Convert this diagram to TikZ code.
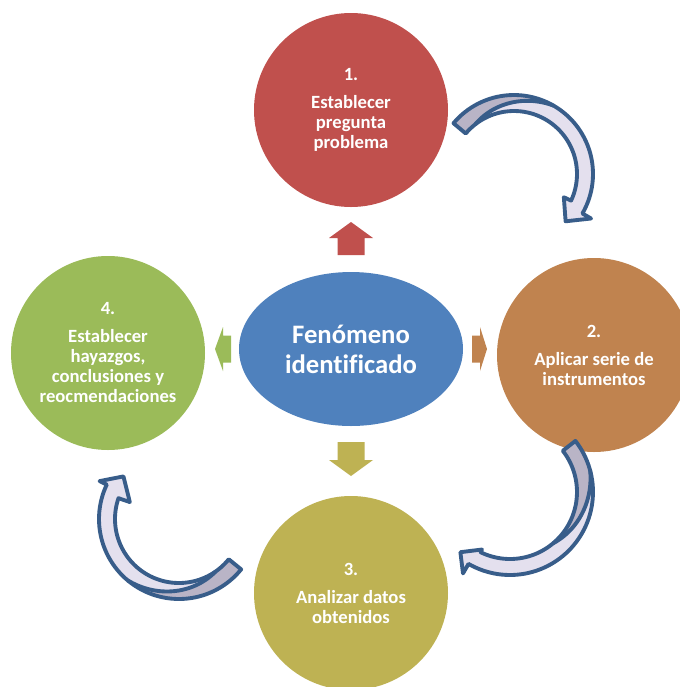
\documentclass[tikz,border=0pt]{standalone}
\usepackage{fontspec}
\setmainfont{Carlito}[Ligatures=NoCommon]
\usetikzlibrary{shapes.geometric}
\definecolor{cRed}{HTML}{C0504D}
\definecolor{cOrange}{HTML}{C0834F}
\definecolor{cOlive}{HTML}{BEB253}
\definecolor{cGreen}{HTML}{9BBB59}
\definecolor{cBlue}{HTML}{4F81BD}
\definecolor{aLight}{HTML}{E4E0EE}
\definecolor{aGray}{HTML}{B9B4C6}
\definecolor{aBlue}{HTML}{385D8A}
\tikzset{
  bubble/.style={circle, minimum size=145.5pt, inner sep=0pt, text=white, align=center,
    font=\fontsize{14}{15}\selectfont\bfseries},
  hub/.style={ellipse, minimum width=168pt, minimum height=115.5pt, inner sep=0pt, fill=cBlue,
    text=white, align=center, font=\fontsize{20}{22.5}\selectfont\bfseries},
  arrowlight/.style={fill=aLight},
  arrowgray/.style={fill=aGray},
  arrowline/.style={draw=aBlue, line width=2.9pt, line join=round}
}
% block arrow: #1 base point, #2 rotation, #3 colour, #4 length, #5 head length
\newcommand\blockarrow[5]{%
  \begin{scope}[shift={#1}, rotate=#2]
    \fill[#3] (0,-13.5) -- ({#4-#5},-13.5) -- ({#4-#5},-22) -- (#4,0) -- ({#4-#5},22) -- ({#4-#5},13.5) -- (0,13.5) -- cycle;
  \end{scope}}
% curved arrow drawn from parameters set with \def
\newcommand\drawcurved[1]{%
  \path[#1] plot[domain=\aT:\aHo,samples=60] ({\aCX+\aRo*cos(\x)},{\aCY+\aRo*sin(\x)})
  -- ({\aCX+\aWo*cos(\aHo)},{\aCY+\aWo*sin(\aHo)})
  -- ({\aCX+\aRt*cos(\aP)},{\aCY+\aRt*sin(\aP)})
  -- ({\aCX+\aWi*cos(\aHi)},{\aCY+\aWi*sin(\aHi)})
  -- plot[domain=\aHi:\aT,samples=60] ({\aCX+\aRi*cos(\x)},{\aCY+\aRi*sin(\x)}) -- cycle;}
\newcommand\drawgray{%
  \fill[arrowgray] plot[domain=\aT:\aDb,samples=40] ({\aCX+\aRb*cos(\x)},{\aCY+\aRb*sin(\x)})
    -- plot[domain=\aDb:\aDa,samples=40] ({\aCX+(\aRa+(\aRb-\aRa)*(\x-\aDa)/(\aDb-\aDa))*cos(\x)},{\aCY+(\aRa+(\aRb-\aRa)*(\x-\aDa)/(\aDb-\aDa))*sin(\x)})
    -- plot[domain=\aDa:\aT,samples=20] ({\aCX+\aRa*cos(\x)},{\aCY+\aRa*sin(\x)}) -- cycle;
  \draw[arrowline] plot[domain=\aDb:\aDa,samples=40] ({\aCX+(\aRa+(\aRb-\aRa)*(\x-\aDa)/(\aDb-\aDa))*cos(\x)},{\aCY+(\aRa+(\aRb-\aRa)*(\x-\aDa)/(\aDb-\aDa))*sin(\x)});}
\newcommand\curvedarrow{\drawcurved{arrowlight}\drawgray\drawcurved{arrowline}}
\begin{document}
\begin{tikzpicture}[x=0.75pt,y=-0.75pt]
\useasboundingbox (0,0) rectangle (680,687);
\fill[white] (0,0) rectangle (680,687);
\clip (0,0) rectangle (680,687);

\node[bubble, fill=cRed] (c1) at (351,110) {1.\\[6pt]Establecer\\pregunta\\problema};
\node[bubble, fill=cOrange] (c2) at (594,355) {2.\\[6pt]Aplicar serie de\\instrumentos};
\node[bubble, fill=cOlive] (c3) at (351,593) {3.\\[6pt]Analizar datos\\obtenidos};
\node[bubble, fill=cGreen] (c4) at (108,353) {4.\\[6pt]Establecer\\hayazgos,\\conclusiones y\\reocmendaciones};
\node[hub] (hub) at (351,349) {Fenómeno\\identificado};

\blockarrow{(351,255)}{90}{cRed}{33}{16}
\blockarrow{(351,442)}{-90}{cOlive}{34}{16}
\blockarrow{(231,349)}{180}{cGreen}{16}{8}
\blockarrow{(472,349)}{0}{cOrange}{15}{7}

% top-right arrow (1 -> 2)
\def\aCX{514}\def\aCY{174}\def\aRi{63}\def\aRo{79}
\def\aT{220}\def\aHi{385}\def\aHo{390}\def\aWi{55}\def\aWo{89}\def\aP{402.5}\def\aRt{70}
\def\aDa{232}\def\aRa{63}\def\aDb{300}\def\aRb{79}
\curvedarrow

% bottom-right arrow (2 -> 3)
\def\aCX{510}\def\aCY{492}\def\aRi{67}\def\aRo{83}
\def\aT{-38}\def\aHi{116}\def\aHo{120}\def\aWi{64}\def\aWo{94}\def\aP{129.5}\def\aRt{78}
\def\aDa{-15}\def\aRa{83}\def\aDb{50}\def\aRb{67}
\curvedarrow

% bottom-left arrow (3 -> 4)
\def\aCX{179}\def\aCY{519}\def\aRi{64}\def\aRo{80}
\def\aT{39}\def\aHi{199}\def\aHo{205.5}\def\aWi{52}\def\aWo{88}\def\aP{217.5}\def\aRt{70}
\def\aDa{55}\def\aRa{64}\def\aDb{130}\def\aRb{80}
\curvedarrow
\end{tikzpicture}
\end{document}
